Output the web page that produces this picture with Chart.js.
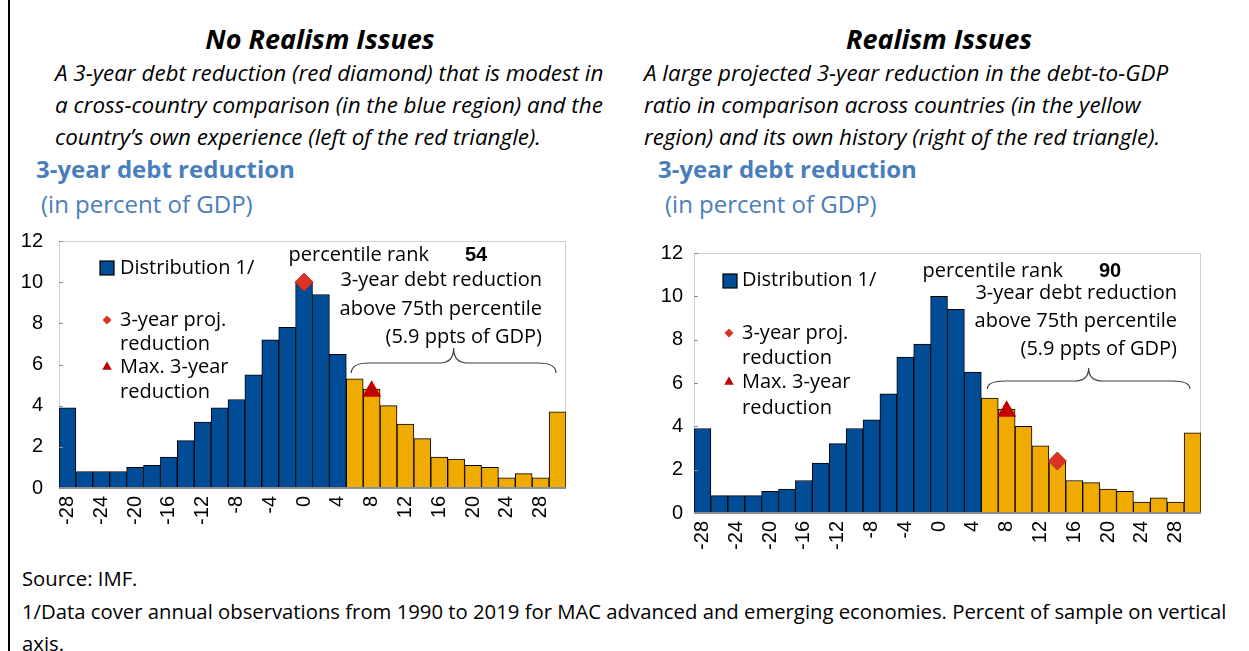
<!DOCTYPE html>
<html lang="en">
<head>
<meta charset="UTF-8">
<title>3-year debt reduction</title>
<script src="https://cdn.jsdelivr.net/npm/chart.js"></script>
<style>
  body { margin:0; width:1249px; height:651px; background:#fff; position:relative; overflow:hidden; font-family:"Open Sans", sans-serif; color:#000; }
  .t { position:absolute; white-space:nowrap; }
  .head { font-size:27px; font-weight:700; font-style:italic; text-align:center; width:400px; line-height:32px; }
  .desc { font-size:22.4px; font-style:italic; line-height:32px; }
  .sub { font-size:24px; font-weight:700; color:#4a7ebb; line-height:32px; }
  .unit { font-size:24px; color:#4a7ebb; line-height:32px; }
  .foot { font-size:20.3px; line-height:32px; }
  .box { position:absolute; }
  #frame { position:absolute; left:8px; top:0; width:2px; height:651px; background:#000; }
</style>
</head>
<body>
<div id="frame"></div>

<div class="t head" style="left:120px; top:23px;">No Realism Issues</div>
<div class="t desc" style="left:55px; top:57px;">A 3-year debt reduction (red diamond) that is modest in<br>a cross-country comparison (in the blue region) and the<br>country’s own experience (left of the red triangle).</div>
<div class="t sub" style="left:36px; top:153px;">3-year debt reduction</div>
<div class="t unit" style="left:41px; top:188px;">(in percent of GDP)</div>

<div class="t head" style="left:739px; top:23px;">Realism Issues</div>
<div class="t desc" style="left:644px; top:57px;">A large projected 3-year reduction in the debt-to-GDP<br>ratio in comparison across countries (in the yellow<br>region) and its own history (right of the red triangle).</div>
<div class="t sub" style="left:658px; top:153px;">3-year debt reduction</div>
<div class="t unit" style="left:665px; top:188px;">(in percent of GDP)</div>

<div class="box" style="left:10px; top:213px; width:600px; height:347px;"><canvas id="left"></canvas></div>
<div class="box" style="left:640px; top:230px; width:600px; height:335px;"><canvas id="right"></canvas></div>

<div class="t foot" style="left:22px; top:562px;">Source: IMF.</div>
<div class="t foot" style="left:22px; top:595px;">1/Data cover annual observations from 1990 to 2019 for MAC advanced and emerging economies. Percent of sample on vertical<br>axis.</div>

<script>
// distribution of 3-year debt reductions (percent of sample), 2-ppt bins
const bins = ['-28','-26','-24','-22','-20','-18','-16','-14','-12','-10','-8','-6','-4','-2','0','2','4',
              '6','8','10','12','14','16','18','20','22','24','26','28','30'];
const share = [3.9, 0.8, 0.8, 0.8, 1.0, 1.1, 1.5, 2.3, 3.2, 3.9, 4.3, 5.5, 7.2, 7.8, 10.0, 9.4, 6.5,
               5.3, 4.8, 4.0, 3.1, 2.4, 1.5, 1.4, 1.1, 1.0, 0.5, 0.7, 0.5, 3.7];
const p75Bin = 6;   // bins from here on are above the 75th percentile

// markers
const leftProj = { x: '0', y: 10.0 };
const leftMax = { x: '8', y: 4.7 };
const rightProj = { x: '14', y: 2.4 };
const rightMax = { x: '8', y: 4.7 };
const leftRank = '54';
const rightRank = '90';

const legendText = ['Distribution 1/', '3-year proj.', 'reduction', 'Max. 3-year', 'reduction'];
const noteText = ['3-year debt reduction', 'above 75th percentile', '(5.9 ppts of GDP)'];

const blue = '#004c97';
const yellow = '#f0ab00';
const diamondRed = '#dc3327';
const triRed = '#c00000';
const txtFont = '"Open Sans", sans-serif';
const numFont = '"Liberation Sans", Arial, sans-serif';

const barColors = bins.map(b => Number(b) >= p75Bin ? yellow : blue);

function diamond(ctx, x, y, r) {
  ctx.beginPath();
  ctx.moveTo(x, y - r); ctx.lineTo(x + r, y); ctx.lineTo(x, y + r); ctx.lineTo(x - r, y);
  ctx.closePath(); ctx.fill();
}
function triangle(ctx, x, y, r) {
  ctx.beginPath();
  ctx.moveTo(x, y - r); ctx.lineTo(x + r * 0.866, y + r / 2); ctx.lineTo(x - r * 0.866, y + r / 2);
  ctx.closePath(); ctx.fill();
}

const annot = {
  id: 'annot',
  beforeDatasetsDraw(chart) {
    const { ctx, chartArea: a } = chart;
    ctx.save();
    ctx.strokeStyle = '#d0d0d0';
    ctx.lineWidth = 1;
    ctx.strokeRect(a.left + 0.5, a.top + 0.5, a.right - a.left - 1, a.bottom - a.top);
    ctx.restore();
  },
  afterDatasetsDraw(chart, args, o) {
    const { ctx, chartArea: a } = chart;
    const xs = chart.scales.x, ys = chart.scales.y;
    ctx.save();

    // axis line + small y ticks
    ctx.strokeStyle = '#8c8c8c';
    ctx.lineWidth = 2;
    ctx.beginPath(); ctx.moveTo(a.left, a.bottom); ctx.lineTo(a.right, a.bottom); ctx.stroke();
    ctx.lineWidth = 1;
    ys.ticks.forEach(t => {
      const y = Math.round(ys.getPixelForValue(t.value)) + 0.5;
      ctx.beginPath(); ctx.moveTo(a.left, y); ctx.lineTo(a.left + 4, y); ctx.stroke();
    });

    // legend
    const L = o.legend;
    ctx.fillStyle = blue;
    ctx.fillRect(a.left + L.sqX, a.top + L.sqY, 14, 14);
    ctx.strokeStyle = '#000';
    ctx.lineWidth = 1.2;
    ctx.strokeRect(a.left + L.sqX, a.top + L.sqY, 14, 14);
    ctx.fillStyle = diamondRed;
    diamond(ctx, a.left + L.mkX, a.top + L.rows[1], 4.5);
    ctx.fillStyle = triRed;
    triangle(ctx, a.left + L.mkX, a.top + L.rows[3], 5.5);
    ctx.fillStyle = '#000';
    ctx.font = '20px ' + txtFont;
    ctx.textBaseline = 'middle';
    ctx.textAlign = 'left';
    legendText.forEach((s, i) => ctx.fillText(s, a.left + L.txtX, a.top + L.rows[i]));

    // percentile rank
    const N = o.note;
    ctx.textAlign = 'right';
    ctx.fillText('percentile rank', a.right - N.rankR, a.top + N.rankY);
    ctx.textAlign = 'left';
    ctx.font = 'bold 20px ' + numFont;
    ctx.fillText(o.rank, a.right - N.numL, a.top + N.rankY);
    ctx.font = '20px ' + txtFont;
    ctx.textAlign = 'right';
    noteText.forEach((s, i) => ctx.fillText(s, a.right - 24, a.top + N.rows[i]));

    // brace over the yellow bins
    const half = (xs.getPixelForValue(1) - xs.getPixelForValue(0)) / 2;
    const xa = xs.getPixelForValue(bins.indexOf(String(p75Bin))) - half + N.braceL;
    const xb = a.right - N.braceR;
    const xm = (xa + xb) / 2;
    const yt = a.top + N.braceTip, yl = a.top + N.braceLine, ye = a.top + N.braceEnd;
    ctx.strokeStyle = '#404040';
    ctx.lineWidth = 1.2;
    ctx.beginPath();
    ctx.moveTo(xa, ye);
    ctx.quadraticCurveTo(xa, yl, xa + 18, yl);
    ctx.lineTo(xm - 14, yl);
    ctx.quadraticCurveTo(xm, yl, xm, yt);
    ctx.quadraticCurveTo(xm, yl, xm + 14, yl);
    ctx.lineTo(xb - 18, yl);
    ctx.quadraticCurveTo(xb, yl, xb, ye);
    ctx.stroke();
    ctx.restore();
  }
};

function makeChart(id, proj, max, rank, lay) {
  return new Chart(document.getElementById(id), {
    type: 'bar',
    data: {
      labels: bins,
      datasets: [
        { type: 'line', data: [proj], showLine: false, pointStyle: 'rectRot', pointRadius: 9,
          pointBackgroundColor: diamondRed, pointBorderColor: '#b52a20', pointBorderWidth: 1, order: 0 },
        { type: 'line', data: [max], showLine: false, pointStyle: 'triangle', pointRadius: 11,
          pointBackgroundColor: triRed, pointBorderColor: triRed, pointBorderWidth: 0, order: 1 },
        { data: share, backgroundColor: barColors, borderColor: '#000', borderWidth: 1,
          barPercentage: 1, categoryPercentage: 1, order: 2 }
      ]
    },
    options: {
      animation: false,
      responsive: true,
      maintainAspectRatio: false,
      layout: { padding: { top: lay.top, right: lay.right, left: 0, bottom: 0 } },
      plugins: {
        legend: { display: false },
        tooltip: { enabled: false },
        annot: { rank: rank, legend: lay.legend, note: lay.note }
      },
      scales: {
        x: {
          grid: { display: false, drawTicks: false },
          border: { display: false },
          afterFit: s => { s.height = lay.xh; },
          ticks: {
            autoSkip: false, minRotation: 90, maxRotation: 90, padding: 8, color: '#000',
            font: { family: numFont, size: 20 },
            callback: (v, i) => i % 2 === 0 ? bins[i] : ''
          }
        },
        y: {
          min: 0, max: 12,
          grid: { display: false, drawTicks: false },
          border: { display: false },
          afterFit: s => { s.width = lay.yw; },
          ticks: { stepSize: 2, padding: lay.ypad, color: '#000', font: { family: numFont, size: 20 } }
        }
      }
    },
    plugins: [annot]
  });
}

makeChart('left', leftProj, leftMax, leftRank, {
  top: 4, right: 44, xh: 72, yw: 49, ypad: 16,
  legend: { sqX: 41, sqY: 20, mkX: 48, txtX: 61, rows: [27, 79, 103, 126, 151] },
  note: { rankR: 137, numL: 101, rankY: 14, rows: [39, 68, 96],
          braceL: 5, braceR: 10, braceTip: 107, braceLine: 122, braceEnd: 132 }
});
makeChart('right', rightProj, rightMax, rightRank, {
  top: 4, right: 39, xh: 52, yw: 54, ypad: 11,
  legend: { sqX: 29, sqY: 21, mkX: 35, txtX: 48, rows: [27, 80, 105, 129, 155] },
  note: { rankR: 138, numL: 102, rankY: 18, rows: [40, 68, 96],
          braceL: 6, braceR: 11, braceTip: 115, braceLine: 128, braceEnd: 136 }
});
</script>
</body>
</html>
